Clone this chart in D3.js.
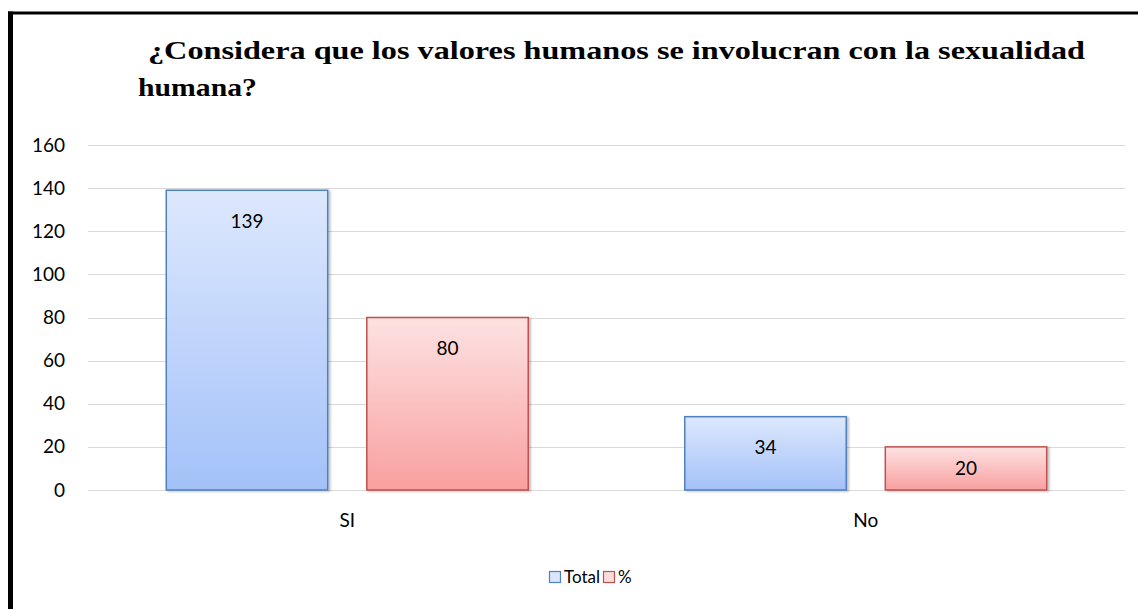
<!DOCTYPE html>
<html><head><meta charset="utf-8">
<script src="https://cdn.jsdelivr.net/npm/d3@7"></script>
<style>
html,body{margin:0;padding:0;background:#fff;}
svg{display:block;}
</style></head>
<body>
<svg id="chart" width="1138" height="609"></svg>
<script>
const categories = ["SI", "No"];
const seriesNames = ["Total", "%"];
const totalValues = [139, 34];
const pctValues = [80, 20];
const yTicks = [0, 20, 40, 60, 80, 100, 120, 140, 160];
const titleLines = ["¿Considera que los valores humanos se involucran con la sexualidad", "humana?"];

(function(){
const svg = d3.select("#chart");
const defs = svg.append("defs");
const gradDefs = [
  {id: "gBlue", top: "#dde8fd", bottom: "#a3c1f8"},
  {id: "gRed", top: "#fde2e2", bottom: "#f8a09f"}
];
gradDefs.forEach(g => {
  const lg = defs.append("linearGradient").attr("id", g.id).attr("x1", 0).attr("y1", 0).attr("x2", 0).attr("y2", 1);
  lg.append("stop").attr("offset", "0%").attr("stop-color", g.top);
  lg.append("stop").attr("offset", "100%").attr("stop-color", g.bottom);
});
const filt = defs.append("filter").attr("id", "shadow").attr("x", "-10%").attr("y", "-10%").attr("width", "130%").attr("height", "130%");
filt.append("feDropShadow").attr("dx", 2).attr("dy", 1).attr("stdDeviation", 1.2).attr("flood-color", "#000").attr("flood-opacity", 0.25);

const colors = [{fill: "url(#gBlue)", stroke: "#4f81bd"}, {fill: "url(#gRed)", stroke: "#c0504d"}];
const labelFont = "Lato, 'Open Sans', sans-serif";

// frame
svg.append("line").attr("x1", 8).attr("x2", 1138).attr("y1", 13).attr("y2", 13).attr("stroke", "#000").attr("stroke-width", 3);
svg.append("line").attr("x1", 10.5).attr("x2", 10.5).attr("y1", 11.5).attr("y2", 609).attr("stroke", "#000").attr("stroke-width", 5);

const pLeft = 88, pRight = 1125, pTop = 145, pBottom = 490;
const y = d3.scaleLinear().domain([0, 160]).range([pBottom, pTop]);
const x0 = d3.scaleBand().domain(categories).range([pLeft, pRight]).paddingInner(0.3).paddingOuter(0.15);
const x1 = d3.scaleBand().domain(seriesNames).range([0, x0.bandwidth()]).paddingInner(0.19);

// grid
svg.append("g").selectAll("line").data(yTicks).join("line")
  .attr("x1", pLeft).attr("x2", pRight)
  .attr("y1", d => Math.round(y(d)) + 0.5).attr("y2", d => Math.round(y(d)) + 0.5)
  .attr("stroke", "#d9d9d9").attr("stroke-width", 1);

// y axis labels
const yAxis = d3.axisLeft(y).tickValues(yTicks).tickSize(0).tickPadding(0);
const ya = svg.append("g").attr("transform", `translate(65,0)`).call(yAxis);
ya.select(".domain").remove();
ya.selectAll("text").attr("font-family", labelFont).attr("font-size", 19).attr("fill", "#000");

// x axis labels
const xAxis = d3.axisBottom(x0).tickSize(0).tickPadding(0);
const xa = svg.append("g").attr("transform", `translate(0,${pBottom + 23})`).call(xAxis);
xa.select(".domain").remove();
xa.selectAll("text").attr("font-family", labelFont).attr("font-size", 19).attr("fill", "#000");

// bars
const series = [totalValues, pctValues];
const barData = [];
categories.forEach((c, i) => {
  seriesNames.forEach((s, j) => barData.push({cat: c, ser: s, j, v: series[j][i]}));
});
const bars = svg.append("g");
bars.selectAll("rect").data(barData).join("rect")
  .attr("x", d => x0(d.cat) + x1(d.ser) + 0.5)
  .attr("y", d => y(d.v))
  .attr("width", x1.bandwidth() - 1)
  .attr("height", d => pBottom - y(d.v))
  .attr("fill", d => colors[d.j].fill)
  .attr("stroke", d => colors[d.j].stroke)
  .attr("stroke-width", 1.5)
  .attr("filter", "url(#shadow)");

bars.selectAll("text").data(barData).join("text")
  .attr("x", d => x0(d.cat) + x1(d.ser) + x1.bandwidth() / 2)
  .attr("y", d => Math.min(y(d.v) + 31, (y(d.v) + pBottom) / 2))
  .attr("dy", "0.35em")
  .attr("text-anchor", "middle")
  .attr("font-family", labelFont).attr("font-size", 19).attr("fill", "#000")
  .text(d => d.v);

// title
const titleSpecs = [{x: 148, y: 59, len: 937}, {x: 138, y: 96, len: 119}];
svg.append("g").selectAll("text").data(titleLines).join("text")
  .attr("font-family", "'Liberation Serif', 'Times New Roman', serif").attr("font-weight", "bold").attr("font-size", 26).attr("fill", "#000")
  .attr("x", (d, i) => titleSpecs[i].x)
  .attr("y", (d, i) => titleSpecs[i].y)
  .attr("textLength", (d, i) => titleSpecs[i].len)
  .attr("lengthAdjust", "spacingAndGlyphs")
  .text(d => d);

// legend
const legend = svg.append("g").attr("transform", "translate(549,577)");
const legItems = [{name: seriesNames[0], x: 0, c: 0}, {name: seriesNames[1], x: 54, c: 1}];
legItems.forEach(it => {
  legend.append("rect").attr("x", it.x + 0.5).attr("y", -5.5).attr("width", 11).attr("height", 11)
    .attr("fill", it.c === 0 ? "#dbe6fb" : "#fbdcdc").attr("stroke", colors[it.c].stroke).attr("stroke-width", 1.2);
  legend.append("text").attr("x", it.x + 15).attr("y", 0).attr("dy", "0.35em")
    .attr("font-family", labelFont).attr("font-size", 17).attr("fill", "#000").text(it.name);
});
})();
</script>
</body></html>
